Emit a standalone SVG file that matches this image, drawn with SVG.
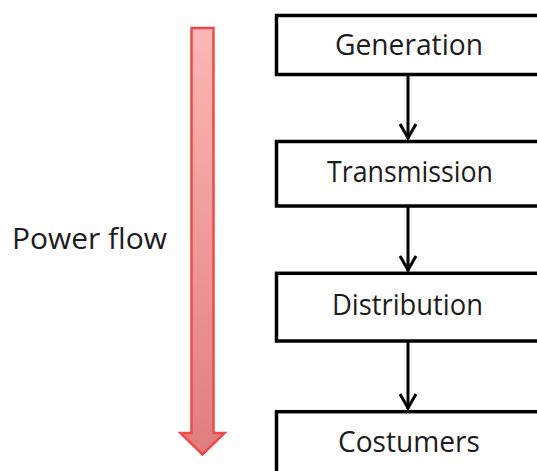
<svg xmlns="http://www.w3.org/2000/svg" width="537" height="471" viewBox="0 0 537 471">
  <defs>
    <linearGradient id="flowGrad" x1="0" y1="0" x2="0" y2="1">
      <stop offset="0" stop-color="#FDB6B6"/>
      <stop offset="1" stop-color="#E07D7D"/>
    </linearGradient>
    <marker id="chev" markerUnits="userSpaceOnUse" markerWidth="22" markerHeight="22" viewBox="-11 -18 22 22" refX="0" refY="0" orient="auto-start-reverse">
      <path d="M-8,-14 L0,0 L8,-14" fill="none" stroke="#000" stroke-width="3" stroke-linejoin="miter"/>
    </marker>
    <style>
      .box { fill: #fff; stroke: #000; stroke-width: 3.5; }
      .lbl { font-family: "Open Sans", "Noto Sans", "DejaVu Sans", sans-serif; font-size: 29px; fill: #1c1c1c; }
      .conn { stroke: #000; stroke-width: 3; fill: none; }
    </style>
  </defs>
  <rect width="537" height="471" fill="#fff"/>

  <g id="power-flow">
    <path d="M191.5,28 H213.5 V433 H224.5 L202.5,454.5 L180.5,433 H191.5 Z" fill="url(#flowGrad)" stroke="#EF4A4A" stroke-width="2.5" stroke-linejoin="miter"/>
    <text class="lbl" x="12" y="249" textLength="155" lengthAdjust="spacingAndGlyphs">Power flow</text>
  </g>

  <g id="connectors">
    <line class="conn" x1="408" y1="75" x2="408" y2="139"/>
    <path class="conn" d="M400,124 L408,138 L416,124"/>
    <line class="conn" x1="408" y1="206" x2="408" y2="271"/>
    <path class="conn" d="M400,256 L408,270 L416,256"/>
    <line class="conn" x1="408" y1="341" x2="408" y2="409"/>
    <path class="conn" d="M400,394 L408,408 L416,394"/>
  </g>

  <g id="generation">
    <rect class="box" x="276.5" y="15.5" width="270" height="59"/>
    <text class="lbl" x="335" y="55" textLength="148" lengthAdjust="spacingAndGlyphs">Generation</text>
  </g>
  <g id="transmission">
    <rect class="box" x="276.5" y="141.5" width="270" height="64.5"/>
    <text class="lbl" x="327" y="182" textLength="166" lengthAdjust="spacingAndGlyphs">Transmission</text>
  </g>
  <g id="distribution">
    <rect class="box" x="276.5" y="273.3" width="270" height="67.7"/>
    <text class="lbl" x="332" y="315" textLength="151" lengthAdjust="spacingAndGlyphs">Distribution</text>
  </g>
  <g id="costumers">
    <rect class="box" x="276.5" y="411.7" width="270" height="70"/>
    <text class="lbl" x="338" y="452" textLength="142" lengthAdjust="spacingAndGlyphs">Costumers</text>
  </g>
</svg>
